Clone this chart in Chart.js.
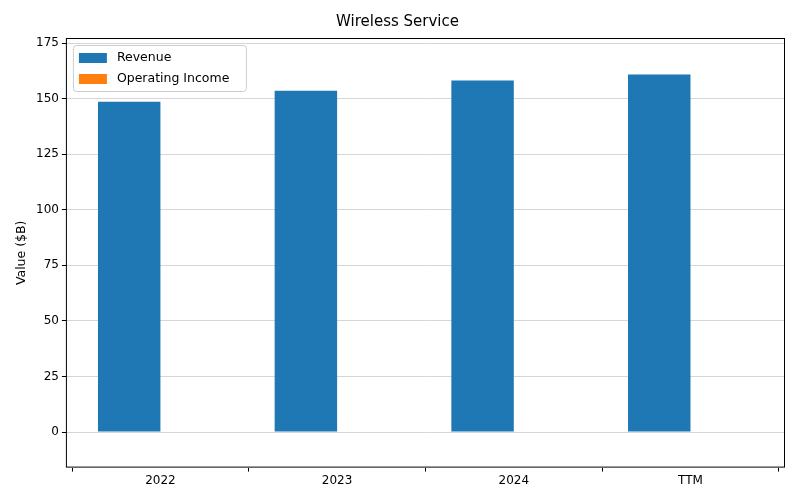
<!DOCTYPE html>
<html><head><meta charset="utf-8">
<script src="https://cdn.jsdelivr.net/npm/chart.js@4"></script>
<style>body{margin:0;background:#fff}#w{width:800px;height:500px}</style></head>
<body><div id="w"><canvas id="c"></canvas></div>
<script>
const categories = ["2022","2023","2024","TTM"];
const revenue = [148.6, 153.6, 158.2, 160.9];
const operatingIncome = [0, 0, 0, 0];
const yTicks = [0,25,50,75,100,125,150,175];
const seriesNames = ["Revenue","Operating Income"];
const colors = ["#1f77b4","#ff7f0e"];

const frame = {
  id:'frame',
  afterDraw(ch){
    const a=ch.chartArea, x=ch.ctx;
    x.save();
    x.strokeStyle='#000'; x.lineWidth=1;
    x.strokeRect(a.left+0.5,a.top+0.5,a.right-a.left-1,a.bottom-a.top-1);
    const lx=a.left+7, ly=a.top+7, w=173, h=46;
    x.fillStyle='rgba(255,255,255,0.8)'; x.strokeStyle='#ccc';
    x.beginPath(); x.roundRect(lx+0.5,ly+0.5,w,h,3); x.fill(); x.stroke();
    x.font='12.5px "DejaVu Sans"'; x.textBaseline='middle';
    seriesNames.forEach((n,i)=>{
      const yy=ly+12+i*21;
      x.fillStyle=colors[i]; x.fillRect(lx+6,yy-4,28,10);
      x.fillStyle='#000'; x.fillText(n,lx+44,yy+1);
    });
    x.restore();
  }
};

new Chart(document.getElementById('c'),{
  type:'bar',
  data:{datasets:[
    {label:seriesNames[0],data:revenue.map((v,i)=>({x:i,y:v})),backgroundColor:colors[0]},
    {label:seriesNames[1],data:operatingIncome.map((v,i)=>({x:i,y:v})),backgroundColor:colors[1]}
  ]},
  options:{
    responsive:true,maintainAspectRatio:false,animation:false,
    layout:{padding:{left:10,right:15,top:0,bottom:10}},
    datasets:{bar:{categoryPercentage:0.707,barPercentage:1}},
    plugins:{legend:{display:false},tooltip:{enabled:false},
      title:{display:true,text:'Wireless Service',color:'#000',font:{family:'DejaVu Sans',size:15,weight:'normal'},padding:{top:13,bottom:7}}},
    scales:{
      x:{type:'linear',min:-0.535,max:3.535,offset:false,
        afterBuildTicks(s){s.ticks=categories.map((c,i)=>({value:i}));},
        grid:{drawOnChartArea:false,drawTicks:true,tickLength:4,tickColor:'#000'},border:{display:false},
        ticks:{color:'#000',font:{family:'DejaVu Sans',size:12},padding:2,callback:(v)=>categories[v]}},
      y:{min:-16,max:177.3,
        afterBuildTicks(s){s.ticks=yTicks.map(v=>({value:v}));},
        grid:{color:'#d6d6d6',borderDash:[4,3],drawTicks:true,tickLength:4,tickColor:'#000'},
        border:{display:false},
        ticks:{color:'#000',font:{family:'DejaVu Sans',size:12},padding:3},
        title:{display:true,text:'Value ($B)',color:'#000',font:{family:'DejaVu Sans',size:12.5},padding:{bottom:4}}}
    }
  },
  plugins:[frame]
});
</script></body></html>
